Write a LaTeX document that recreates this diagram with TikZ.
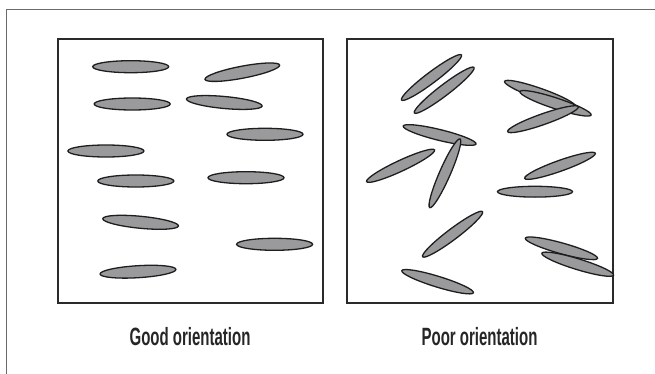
\documentclass[tikz,border=0pt]{standalone}
\usepackage{fontspec}
\setmainfont{Liberation Sans}
\definecolor{grainfill}{HTML}{9A9A9C}
\definecolor{grainline}{HTML}{1E1E1E}
\definecolor{boxline}{HTML}{2A2A2A}
\definecolor{frameline}{HTML}{6A6A6A}
\tikzset{
  grain/.style={fill=grainfill, draw=grainline, line width=1.3pt},
  panel/.style={draw=boxline, line width=2pt},
  caption/.style={font=\fontsize{25}{29}\selectfont\bfseries, text=black!85, inner sep=0pt}
}
\begin{document}
\begin{tikzpicture}[x=1pt,y=-1pt]
\useasboundingbox (0,0) rectangle (655,374);
% outer frame lines
\draw[frameline, line width=1pt] (6.5,374) -- (6.5,9.5) -- (655,9.5);
% panels
\draw[panel] (58,39) rectangle (323,303);
\draw[panel] (347,39) rectangle (612.5,303);
% good orientation grains
\newcommand{\grainL}[3]{\draw[grain] (#1,#2) ellipse [x radius=38pt, y radius=6pt, rotate=#3];}
\grainL{130.7}{66.7}{0}
\grainL{242.3}{72.2}{10.8}
\grainL{132.2}{104}{0}
\grainL{224.3}{102.5}{-5.3}
\grainL{265}{134.3}{0}
\grainL{105.9}{151}{0}
\grainL{135.8}{181}{0}
\grainL{246}{177.7}{0}
\grainL{140.6}{222.3}{-5.5}
\grainL{274.6}{244.3}{0}
\grainL{138}{271.7}{3.5}
% poor orientation grains
\newcommand{\grainR}[3]{\draw[grain] (#1,#2) ellipse [x radius=37.5pt, y radius=5.4pt, rotate=#3];}
\grainR{431.5}{77.5}{37}
\grainR{444.2}{90.2}{37.4}
\grainR{539.9}{93.8}{-19.4}
\grainR{555.5}{103.3}{-18.2}
\grainR{543}{119.2}{19.4}
\grainR{439.6}{135}{-13.8}
\grainR{400.6}{165.8}{25}
\grainR{444.9}{173.3}{66.3}
\grainR{560}{165.8}{19.6}
\grainR{535}{191.7}{0}
\grainR{452.6}{234.2}{37}
\grainR{561.4}{248.3}{-15.6}
\grainR{577.7}{264.2}{-17}
\grainR{437.6}{281.7}{-17.1}
% captions
\node[caption] (good) at (190,337) {\scalebox{0.6}[1]{Good orientation}};
\node[caption] (poor) at (479.5,337) {\scalebox{0.6}[1]{Poor orientation}};
\end{tikzpicture}
\end{document}
